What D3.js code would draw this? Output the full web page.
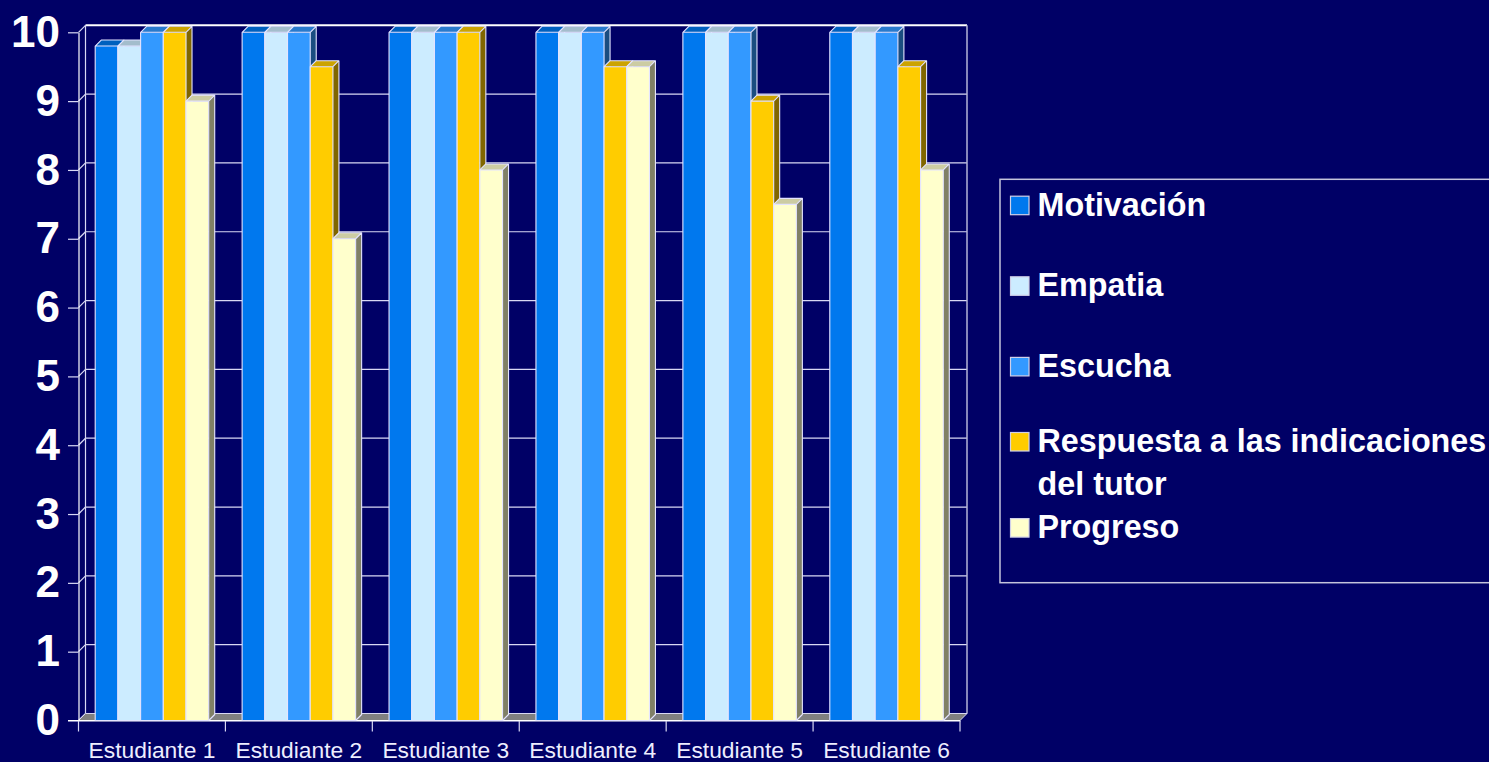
<!DOCTYPE html>
<html lang="es">
<head>
    <meta charset="UTF-8">
    <title>Estudiantes</title>
    <script src="https://d3js.org/d3.v7.min.js"></script>
    <style>
        html, body { margin: 0; padding: 0; background: #000066; overflow: hidden; }
        svg { display: block; font-family: "Liberation Sans", Arial, sans-serif; }
    </style>
</head>
<body>
<svg id="chart"></svg>
<script>
    // data
    const students = ["Estudiante 1", "Estudiante 2", "Estudiante 3", "Estudiante 4", "Estudiante 5", "Estudiante 6"];
    const series = ["Motivación", "Empatia", "Escucha", "Respuesta a las indicaciones del tutor", "Progreso"];
    const motivacion = [9.8, 10, 10, 10, 10, 10];
    const empatia = [9.8, 10, 10, 10, 10, 10];
    const escucha = [10, 10, 10, 10, 10, 10];
    const respuesta = [10, 9.5, 10, 9.5, 9, 9.5];
    const progreso = [9, 7, 8, 9.5, 7.5, 8];
    const yTicks = [0, 1, 2, 3, 4, 5, 6, 7, 8, 9, 10];
    const colors = ["#0078EE", "#CCECFF", "#3399FF", "#FFCC00", "#FFFFCC"];

    const values = [motivacion, empatia, escucha, respuesta, progreso];

    const width = 1489, height = 762;
    const svg = d3.select("#chart").attr("width", width).attr("height", height);

    // front plane of the plot and the 3d depth
    const plotLeft = 78.5, plotRight = 960, plotBottom = 720.5, plotTop = 32.3;
    const wallDx = 7, wallDy = -7;
    const barDx = 6, barDy = -6;

    const y = d3.scaleLinear().domain([0, 10]).range([plotBottom, plotTop]);
    const x0 = d3.scaleBand().domain(students).range([plotLeft, plotRight]);
    const x1 = d3.scaleBand().domain(series).range([0, x0.bandwidth()]).paddingOuter(0.736);

    const lineCol = "#d8d8f4";

    // back wall grid lines
    svg.append("g").selectAll("line")
        .data(yTicks.filter(d => d > 0))
        .join("line")
        .attr("x1", plotLeft + wallDx).attr("x2", plotRight + wallDx)
        .attr("y1", d => y(d) + wallDy).attr("y2", d => y(d) + wallDy)
        .attr("stroke", d => d === 10 ? "#ffffff" : lineCol)
        .attr("stroke-width", d => d === 10 ? 2 : 1.2);

    // side wall diagonals
    svg.append("g").selectAll("line")
        .data(yTicks)
        .join("line")
        .attr("x1", plotLeft).attr("x2", plotLeft + wallDx)
        .attr("y1", d => y(d)).attr("y2", d => y(d) + wallDy)
        .attr("stroke", lineCol).attr("stroke-width", 1.2);

    // wall edges
    svg.append("line")
        .attr("x1", plotLeft + wallDx).attr("x2", plotLeft + wallDx)
        .attr("y1", y(10) + wallDy).attr("y2", y(0) + wallDy)
        .attr("stroke", lineCol).attr("stroke-width", 1.2);
    svg.append("line")
        .attr("x1", plotRight + wallDx).attr("x2", plotRight + wallDx)
        .attr("y1", y(10) + wallDy).attr("y2", y(0) + wallDy)
        .attr("stroke", "#b4b4d8").attr("stroke-width", 1.5);

    // floor
    svg.append("path")
        .attr("d", `M${plotLeft},${y(0)}L${plotRight},${y(0)}L${plotRight + wallDx},${y(0) + wallDy}L${plotLeft + wallDx},${y(0) + wallDy}Z`)
        .attr("fill", "#808080")
        .attr("stroke", lineCol).attr("stroke-width", 1);

    // y axis
    const yAxis = svg.append("g")
        .attr("transform", `translate(${plotLeft},0)`)
        .call(d3.axisLeft(y).tickValues(yTicks).tickSize(10.5).tickSizeOuter(0).tickPadding(8));
    yAxis.select(".domain").attr("stroke", "#ffffff").attr("stroke-width", 1.2);
    yAxis.selectAll(".tick line").attr("stroke", lineCol).attr("stroke-width", 1.2);
    yAxis.selectAll(".tick text")
        .attr("fill", "#ffffff")
        .style("font-size", "44px")
        .style("font-weight", "bold");

    // x axis: labels centred, ticks on band edges
    const xAxis = svg.append("g")
        .attr("transform", `translate(0,${plotBottom})`)
        .call(d3.axisBottom(x0).tickSize(0).tickPadding(21));
    xAxis.select(".domain").attr("stroke", "#ffffff").attr("stroke-width", 1.2);
    xAxis.selectAll(".tick text")
        .attr("fill", "#eeeeff")
        .style("font-size", "22.8px");

    const edges = students.map(d => x0(d)).concat([x0(students[students.length - 1]) + x0.bandwidth()]);
    svg.append("g").selectAll("line")
        .data(edges)
        .join("line")
        .attr("x1", d => d).attr("x2", d => d)
        .attr("y1", plotBottom).attr("y2", plotBottom + 11)
        .attr("stroke", lineCol).attr("stroke-width", 1.2);
    svg.append("line")
        .attr("x1", plotLeft - 10.5).attr("x2", plotRight)
        .attr("y1", plotBottom).attr("y2", plotBottom)
        .attr("stroke", "#ffffff").attr("stroke-width", 1.2);

    // 3d bars
    const bars = [];
    students.forEach((s, i) => {
        series.forEach((k, j) => {
            bars.push({student: s, key: k, value: values[j][i], color: colors[j]});
        });
    });

    const shade = (c, f) => {
        const col = d3.rgb(c);
        return d3.rgb(col.r * f, col.g * f, col.b * f).formatHex();
    };

    const barG = svg.append("g").selectAll("g")
        .data(bars)
        .join("g");

    barG.each(function (d) {
        const g = d3.select(this);
        const bx = x0(d.student) + x1(d.key);
        const bw = x1.bandwidth();
        const by = y(d.value);
        const b0 = y(0);
        // side face
        g.append("path")
            .attr("d", `M${bx + bw},${b0}L${bx + bw + barDx},${b0 + barDy}L${bx + bw + barDx},${by + barDy}L${bx + bw},${by}Z`)
            .attr("fill", shade(d.color, 0.5));
        // top face
        g.append("path")
            .attr("d", `M${bx},${by}L${bx + barDx},${by + barDy}L${bx + bw + barDx},${by + barDy}L${bx + bw},${by}Z`)
            .attr("fill", shade(d.color, 0.8));
        // front face
        g.append("rect")
            .attr("x", bx).attr("y", by)
            .attr("width", bw).attr("height", b0 - by)
            .attr("fill", d.color);
        // outline
        g.append("path")
            .attr("d", `M${bx},${b0}L${bx},${by}L${bx + barDx},${by + barDy}L${bx + bw + barDx},${by + barDy}L${bx + bw + barDx},${b0 + barDy}L${bx + bw},${b0}Z M${bx},${by}L${bx + bw},${by}L${bx + bw + barDx},${by + barDy} M${bx + bw},${by}L${bx + bw},${b0}`)
            .attr("fill", "none")
            .attr("stroke", "#e4e4ff")
            .attr("stroke-width", 1.1)
            .attr("stroke-linejoin", "round");
    });

    // legend
    const legX = 1000, legY = 179.3, legH = 403.4;
    svg.append("rect")
        .attr("x", legX).attr("y", legY)
        .attr("width", 540).attr("height", legH)
        .attr("fill", "none")
        .attr("stroke", "#c4c4dc").attr("stroke-width", 1.5);

    const slot = 80.6, firstBase = 215.7, lineH = 43, textX = 1037.5, maxW = 453;
    const leg = svg.append("g").selectAll("g")
        .data(series)
        .join("g");

    leg.each(function (name, i) {
        const g = d3.select(this);
        const text = g.append("text")
            .attr("x", textX)
            .attr("fill", "#ffffff")
            .style("font-size", "32.3px")
            .style("font-weight", "bold");
        // wrap words on the legend width
        const words = name.split(" ");
        const lines = [];
        let line = [];
        const probe = text.append("tspan");
        words.forEach(w => {
            line.push(w);
            probe.text(line.join(" "));
            if (probe.node().getComputedTextLength() > maxW && line.length > 1) {
                line.pop();
                lines.push(line.join(" "));
                line = [w];
            }
        });
        lines.push(line.join(" "));
        probe.remove();

        // wrapped entries sit a little higher in their slot
        const base = firstBase + i * slot - (lines.length - 1) * 5.5;
        text.selectAll("tspan")
            .data(lines)
            .join("tspan")
            .attr("x", textX)
            .attr("y", (l, k) => base + k * lineH)
            .text(l => l);

        g.append("rect")
            .attr("x", 1010.5).attr("y", base - 19.5)
            .attr("width", 18.5).attr("height", 18.5)
            .attr("fill", colors[i])
            .attr("stroke", "#d0d0e8").attr("stroke-width", 1.2);
    });
</script>
</body>
</html>
